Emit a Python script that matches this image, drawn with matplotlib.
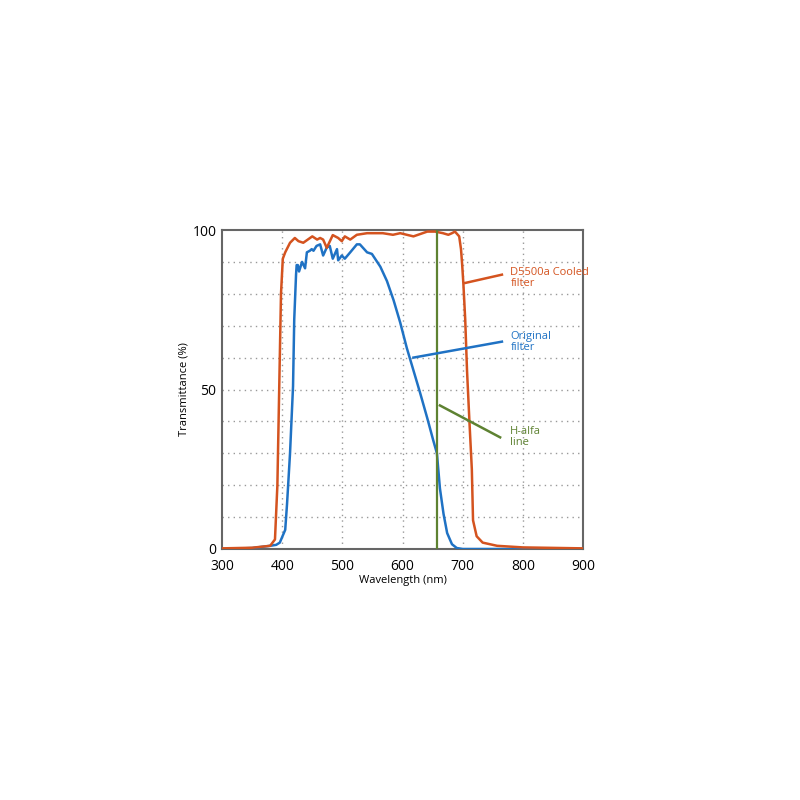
import numpy as np
import matplotlib.pyplot as plt

plt.rcParams['font.family'] = ['Open Sans', 'DejaVu Sans']

# D5500a cooled filter
wl_cooled = [300, 350, 380, 388, 392, 395, 398, 401, 405, 413, 421, 427, 435, 450, 458,
             463, 468, 474, 484, 493, 499, 504, 513, 524, 541, 567, 584, 596, 618, 641,
             654, 667, 676, 682, 687, 694, 697, 699, 701, 704, 707, 711, 715, 717, 723,
             733, 757, 800, 900]
tr_cooled = [0.2, 0.4, 1, 3, 20, 50, 80, 91, 93, 96, 97.5, 96.5, 96, 98, 97,
             97.5, 97, 94.4, 98.4, 97.5, 96.5, 98, 97, 98.5, 99, 99, 98.5, 99, 98, 99.5,
             99.5, 99, 98.5, 99, 99.5, 98, 94, 89, 83, 72, 56, 40, 25, 9, 4,
             2, 1, 0.5, 0.2]

# original filter
wl_orig = [300, 350, 380, 390, 396, 405, 408, 413, 418, 420, 423, 424, 426, 428, 433,
           438, 441, 446, 449, 452, 457, 463, 468, 474, 479, 484, 491, 493, 499, 504,
           513, 524, 529, 541, 549, 563, 574, 585, 596, 607, 618, 629, 641, 651, 657,
           662, 668, 674, 682, 690, 700, 900]
tr_orig = [0, 0.3, 1, 1.3, 2, 6, 14, 30, 51, 72, 86, 89, 89, 87, 90,
           88, 93, 93.5, 94, 93.5, 95, 95.5, 92, 94.5, 95, 91, 94, 90.5, 92, 91,
           93, 95.5, 95.5, 93, 92.5, 88.5, 84, 78, 71, 63, 56, 49, 41, 34, 30,
           19, 11, 5, 1.5, 0.3, 0, 0]

h_alpha = 657

orange = '#d4531f'
blue = '#1f72c4'
green = '#5e8232'

fig = plt.figure(figsize=(8, 8), dpi=100)
ax = fig.add_axes([0.2775, 0.31375, 0.4515, 0.39875])

for y in range(10, 100, 10):
    ax.axhline(y, color='#999999', lw=1, ls=(0, (1, 3)), zorder=0)
for x in range(400, 900, 100):
    ax.axvline(x, color='#999999', lw=1, ls=(0, (1, 3)), zorder=0)

ax.plot(wl_orig, tr_orig, color=blue, lw=1.8, zorder=3)
ax.plot(wl_cooled, tr_cooled, color=orange, lw=1.8, zorder=3)
ax.axvline(h_alpha, color=green, lw=1.6, zorder=4)

# labels with leader lines
ax.plot([704, 765], [83.4, 86], color=orange, lw=1.8, zorder=5)
ax.text(779, 85, 'D5500a Cooled\nfilter', color=orange, fontsize=8,
        va='center', ha='left', linespacing=1.0)
ax.plot([618, 765], [60, 65], color=blue, lw=1.8, zorder=5)
ax.text(779, 65, 'Original\nfilter', color=blue, fontsize=8,
        va='center', ha='left', linespacing=1.0)
ax.plot([662, 762], [45, 35], color=green, lw=1.8, zorder=5)
ax.text(779, 35, 'H-alfa\nline', color=green, fontsize=8,
        va='center', ha='left', linespacing=1.0)

ax.set_xlim(300, 900)
ax.set_ylim(0, 100)
ax.set_xticks([300, 400, 500, 600, 700, 800, 900])
ax.set_yticks([0, 50, 100])
ax.tick_params(length=0, labelsize=10)
ax.tick_params(axis='x', pad=7)
ax.tick_params(axis='y', pad=4)
for s in ax.spines.values():
    s.set_color('#666666')
    s.set_linewidth(1.5)
ax.set_xlabel('Wavelength (nm)', fontsize=8, labelpad=1)
ax.set_ylabel('Transmittance (%)', fontsize=8, labelpad=2)

fig.savefig('out.png', dpi=100, facecolor='white')
